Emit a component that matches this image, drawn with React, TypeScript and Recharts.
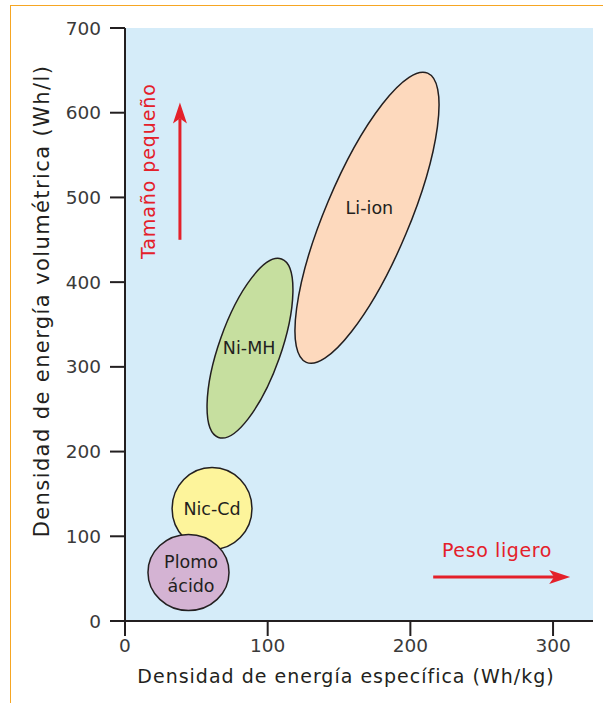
import React from "react";
import {
  CartesianGrid,
  ReferenceDot,
  ReferenceLine,
  Scatter,
  ScatterChart,
  XAxis,
  YAxis,
} from "recharts";

// battery regions, all in data units (Wh/kg, Wh/l)
const batteryLabels = [["Nic-Cd"], ["Plomo", "ácido"], ["Ni-MH"], ["Li-ion"]];
const centerEnergy = [61, 44.5, 87.6, 169.6];
const centerVolume = [132.8, 57.3, 322, 476];
const halfSpanEnergy = [28, 28.4, 30.1, 50.5];
const halfSpanVolume = [48.4, 44.9, 106, 171.8];
const peakEnergy = [61, 44.5, 107.2, 208.8]; // energy at the top point of each region
const labelEnergy = [61, 46.3, 87, 171.3];
const labelVolume = [132, 56, 322, 487.5];

const xTicks = [0, 100, 200, 300];
const yTicks = [0, 100, 200, 300, 400, 500, 600, 700];
const X_MAX = 328;
const Y_MAX = 700;

// annotations
const sizeArrowEnergy = [38.5, 38.5];
const sizeArrowVolume = [450, 612];
const weightArrowEnergy = [216, 312];
const weightArrowVolume = [52, 52];
const sizeNote = { energy: 16.1, volume: 531, text: "Tamaño pequeño" };
const weightNote = { energy: 260.7, volume: 83.8, text: "Peso ligero" };

const fills = ["#fdf49b", "#d4b3d3", "#c6df9f", "#fdd9bd"];

const W = 603;
const H = 703;
const MARGIN = { top: 28, right: 10, bottom: 0, left: 0 };
const Y_AXIS_W = 125;
const X_AXIS_H = 82;
const PX_X = (W - MARGIN.left - MARGIN.right - Y_AXIS_W) / X_MAX;
const PX_Y = (H - MARGIN.top - MARGIN.bottom - X_AXIS_H) / Y_MAX;

const FONT = '"DejaVu Sans", "Liberation Sans", sans-serif';
const INK = "#231f20";
const RED = "#e4202a";

const data = batteryLabels.map((lines, i) => ({
  lines,
  energy: centerEnergy[i],
  volume: centerVolume[i],
  spanE: halfSpanEnergy[i],
  spanV: halfSpanVolume[i],
  peakE: peakEnergy[i],
  labelE: labelEnergy[i],
  labelV: labelVolume[i],
  fill: fills[i],
}));

const BatteryRegion = (p: any) => {
  const { cx, cy, payload } = p;
  const X = payload.spanE * PX_X;
  const Y = payload.spanV * PX_Y;
  const t = (payload.peakE - payload.energy) * PX_X;
  const D = Y * Y - X * X;
  const P = 2 * t * Y;
  const diff = Math.hypot(D, P);
  const sum = X * X + Y * Y;
  const a = Math.sqrt((sum + diff) / 2);
  const b = Math.sqrt(Math.max(0, (sum - diff) / 2));
  const theta = diff === 0 ? 0 : Math.atan2(P, -D) / 2;
  const lx = cx + (payload.labelE - payload.energy) * PX_X;
  const ly = cy - (payload.labelV - payload.volume) * PX_Y;
  const n = payload.lines.length;
  return (
    <g>
      <ellipse
        cx={cx}
        cy={cy}
        rx={a}
        ry={b}
        fill={payload.fill}
        stroke={INK}
        strokeWidth={1.5}
        transform={`rotate(${(-theta * 180) / Math.PI} ${cx} ${cy})`}
      />
      {payload.lines.map((s: string, k: number) => (
        <text
          key={s}
          x={lx}
          y={ly + (k - (n - 1) / 2) * 24}
          textAnchor="middle"
          dominantBaseline="central"
          fontSize={17.5}
          fontFamily={FONT}
          fill={INK}
        >
          {s}
        </text>
      ))}
    </g>
  );
};

const Arrow = (p: any) => {
  const { x1, y1, x2, y2 } = p;
  const dx = x2 - x1;
  const dy = y2 - y1;
  const len = Math.hypot(dx, dy);
  const ux = dx / len;
  const uy = dy / len;
  const nx = -uy;
  const ny = ux;
  const head = 21;
  const half = 7;
  const notch = 5;
  const bx = x2 - ux * head;
  const by = y2 - uy * head;
  const mx = x2 - ux * (head - notch);
  const my = y2 - uy * (head - notch);
  return (
    <g>
      <line x1={x1} y1={y1} x2={mx} y2={my} stroke={RED} strokeWidth={3} />
      <polygon
        points={`${x2},${y2} ${bx + nx * half},${by + ny * half} ${mx},${my} ${bx - nx * half},${by - ny * half}`}
        fill={RED}
      />
    </g>
  );
};

export default function App() {
  return (
    <div
      style={{
        position: "absolute",
        left: 0,
        top: 0,
        width: W,
        height: H,
        background: "#fff",
        overflow: "hidden",
      }}
    >
      <div
        style={{
          position: "absolute",
          left: 10,
          top: 5,
          right: 0,
          bottom: 0,
          borderTop: "1.5px solid #f6a623",
          borderLeft: "1.5px solid #f6a623",
        }}
      />
      <ScatterChart width={W} height={H} margin={MARGIN} style={{ position: "absolute", left: 0, top: 0 }}>
        <CartesianGrid horizontal={false} vertical={false} fill="#d5ecf9" stroke="none" />
        <XAxis
          type="number"
          dataKey="energy"
          domain={[0, X_MAX]}
          ticks={xTicks}
          height={X_AXIS_H}
          tickSize={15}
          tickMargin={3}
          axisLine={{ stroke: INK, strokeWidth: 2 }}
          tickLine={{ stroke: INK, strokeWidth: 2 }}
          tick={{ fill: "#3a3a3a", fontSize: 18.5, fontFamily: FONT }}
          label={{
            content: ({ viewBox }: any) => (
              <text
                x={viewBox.x + 221}
                y={viewBox.y + 62}
                textAnchor="middle"
                fontSize={19}
                letterSpacing={1}
                fontFamily={FONT}
                fill={INK}
              >
                Densidad de energía específica (Wh/kg)
              </text>
            ),
          }}
        />
        <YAxis
          type="number"
          dataKey="volume"
          domain={[0, Y_MAX]}
          ticks={yTicks}
          width={Y_AXIS_W}
          tickSize={15}
          tickMargin={9}
          axisLine={{ stroke: INK, strokeWidth: 2 }}
          tickLine={{ stroke: INK, strokeWidth: 2 }}
          tick={{ fill: "#3a3a3a", fontSize: 18.5, fontFamily: FONT }}
          label={{
            content: () => (
              <text
                x={49}
                y={301}
                textAnchor="middle"
                fontSize={21}
                letterSpacing={1.4}
                fontFamily={FONT}
                fill={INK}
                transform="rotate(-90 49 301)"
              >
                Densidad de energía volumétrica (Wh/l)
              </text>
            ),
          }}
        />
        <Scatter data={data} isAnimationActive={false} shape={(p: any) => <BatteryRegion {...p} />} />
        <ReferenceLine
          segment={[
            { x: sizeArrowEnergy[0], y: sizeArrowVolume[0] },
            { x: sizeArrowEnergy[1], y: sizeArrowVolume[1] },
          ]}
          shape={(p: any) => <Arrow {...p} />}
        />
        <ReferenceLine
          segment={[
            { x: weightArrowEnergy[0], y: weightArrowVolume[0] },
            { x: weightArrowEnergy[1], y: weightArrowVolume[1] },
          ]}
          shape={(p: any) => <Arrow {...p} />}
        />
        <ReferenceDot
          x={sizeNote.energy}
          y={sizeNote.volume}
          shape={(p: any) => (
            <text
              x={p.cx}
              y={p.cy}
              textAnchor="middle"
              dominantBaseline="central"
              fontSize={19}
              letterSpacing={0.9}
              fontFamily={FONT}
              fill={RED}
              transform={`rotate(-90 ${p.cx} ${p.cy})`}
            >
              {sizeNote.text}
            </text>
          )}
        />
        <ReferenceDot
          x={weightNote.energy}
          y={weightNote.volume}
          shape={(p: any) => (
            <text
              x={p.cx}
              y={p.cy}
              textAnchor="middle"
              dominantBaseline="central"
              fontSize={19}
              letterSpacing={0.6}
              fontFamily={FONT}
              fill={RED}
            >
              {weightNote.text}
            </text>
          )}
        />
      </ScatterChart>
    </div>
  );
}
